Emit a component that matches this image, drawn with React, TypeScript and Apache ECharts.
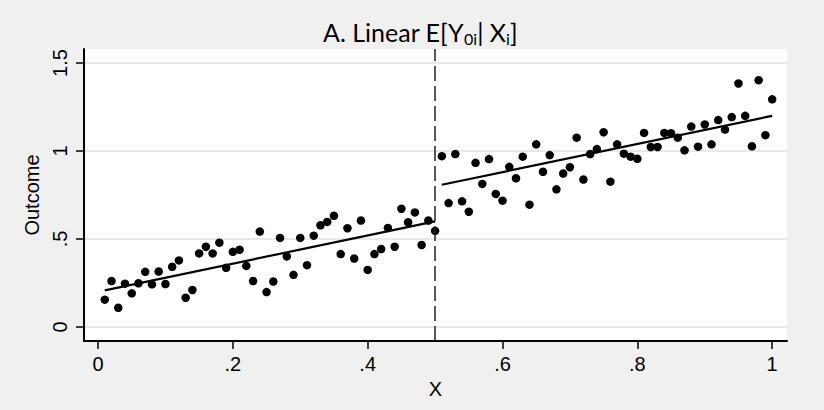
import React, { useEffect, useRef } from "react";
import * as echarts from "echarts";

const xTicks = [0, 0.2, 0.4, 0.6, 0.8, 1];
const xTickLabels = ["0", ".2", ".4", ".6", ".8", "1"];
const yTicks = [0, 0.5, 1, 1.5];
const yTickLabels = ["0", ".5", "1", "1.5"];

const xValues = [
  0.01, 0.02, 0.03, 0.04, 0.05, 0.06, 0.07, 0.08, 0.09, 0.1,
  0.11, 0.12, 0.13, 0.14, 0.15, 0.16, 0.17, 0.18, 0.19, 0.2,
  0.21, 0.22, 0.23, 0.24, 0.25, 0.26, 0.27, 0.28, 0.29, 0.3,
  0.31, 0.32, 0.33, 0.34, 0.35, 0.36, 0.37, 0.38, 0.39, 0.4,
  0.41, 0.42, 0.43, 0.44, 0.45, 0.46, 0.47, 0.48, 0.49, 0.5,
  0.51, 0.52, 0.53, 0.54, 0.55, 0.56, 0.57, 0.58, 0.59, 0.6,
  0.61, 0.62, 0.63, 0.64, 0.65, 0.66, 0.67, 0.68, 0.69, 0.7,
  0.71, 0.72, 0.73, 0.74, 0.75, 0.76, 0.77, 0.78, 0.79, 0.8,
  0.81, 0.82, 0.83, 0.84, 0.85, 0.86, 0.87, 0.88, 0.89, 0.9,
  0.91, 0.92, 0.93, 0.94, 0.95, 0.96, 0.97, 0.98, 0.99, 1.0,
];

const outcomes = [
  0.155, 0.261, 0.109, 0.246, 0.191, 0.248, 0.313, 0.242, 0.315, 0.244,
  0.342, 0.378, 0.166, 0.21, 0.418, 0.456, 0.418, 0.479, 0.336, 0.427,
  0.439, 0.347, 0.261, 0.542, 0.198, 0.258, 0.506, 0.401, 0.296, 0.506,
  0.351, 0.519, 0.578, 0.597, 0.632, 0.414, 0.561, 0.389, 0.605, 0.324,
  0.414, 0.443, 0.563, 0.456, 0.672, 0.595, 0.651, 0.466, 0.605, 0.546,
  0.971, 0.704, 0.983, 0.714, 0.655, 0.933, 0.813, 0.954, 0.756, 0.718,
  0.91, 0.845, 0.968, 0.695, 1.038, 0.882, 0.977, 0.782, 0.872, 0.908,
  1.076, 0.838, 0.983, 1.011, 1.107, 0.826, 1.038, 0.985, 0.968, 0.956,
  1.103, 1.023, 1.023, 1.103, 1.101, 1.076, 1.004, 1.139, 1.025, 1.151,
  1.038, 1.176, 1.122, 1.193, 1.384, 1.2, 1.027, 1.403, 1.09, 1.294,
];

const cutoff = 0.5;
const leftFitX = [0.01, 0.5];
const leftFitY = [0.208, 0.6];
const rightFitX = [0.51, 1.0];
const rightFitY = [0.808, 1.2];

const fmt = (ticks: number[], labels: string[]) => (v: number) => {
  const i = ticks.findIndex((t) => Math.abs(t - v) < 1e-9);
  return i >= 0 ? labels[i] : "";
};

export default function App() {
  const ref = useRef<HTMLDivElement>(null);
  useEffect(() => {
    if (!ref.current) return;
    const chart = echarts.init(ref.current, null, { renderer: "svg" });
    const axisFont = "Liberation Sans, Arial, sans-serif";
    chart.setOption({
      animation: false,
      backgroundColor: "#f0f0f0",
      title: {
        text: "A. Linear E[Y{sub|0i}| X{sub|i}]",
        left: 318,
        top: 13,
        textStyle: {
          fontFamily: "Lato, sans-serif",
          fontSize: 25,
          fontWeight: "normal",
          color: "#000",
          lineHeight: 28,
          rich: {
            sub: {
              fontFamily: "Lato, sans-serif",
              fontSize: 16,
              lineHeight: 16,
              verticalAlign: "bottom",
              color: "#000",
            },
          },
        },
      },
      grid: {
        left: 84,
        top: 49,
        right: 37,
        bottom: 69,
        show: true,
        backgroundColor: "#ffffff",
        borderWidth: 0,
      },
      xAxis: {
        type: "value",
        min: -0.0208,
        max: 1.022,
        name: "X",
        nameLocation: "middle",
        nameGap: 33,
        nameTextStyle: { fontFamily: axisFont, fontSize: 20, color: "#000" },
        axisLine: { show: true, onZero: false, lineStyle: { color: "#000", width: 2 } },
        axisTick: {
          show: true,
          customValues: xTicks,
          length: 8,
          lineStyle: { color: "#000", width: 1.5 },
        },
        axisLabel: {
          customValues: xTicks,
          formatter: fmt(xTicks, xTickLabels),
          fontFamily: axisFont,
          fontSize: 20,
          color: "#000",
          margin: 13,
        },
        splitLine: { show: false },
      },
      yAxis: {
        type: "value",
        min: -0.08,
        max: 1.58,
        name: "Outcome",
        nameLocation: "middle",
        nameGap: 38,
        nameTextStyle: { fontFamily: axisFont, fontSize: 20, color: "#000" },
        axisLine: { show: true, onZero: false, lineStyle: { color: "#000", width: 2 } },
        axisTick: {
          show: true,
          customValues: yTicks,
          length: 8,
          lineStyle: { color: "#000", width: 1.5 },
        },
        axisLabel: {
          customValues: yTicks,
          formatter: fmt(yTicks, yTickLabels),
          rotate: 90,
          fontFamily: axisFont,
          fontSize: 20,
          color: "#000",
          margin: 14,
        },
        splitLine: { show: true, lineStyle: { color: "#e8e8e8", width: 2 } },
      },
      series: [
        {
          type: "scatter",
          data: xValues.map((x, i) => [x, outcomes[i]]),
          symbol: "circle",
          symbolSize: 8.5,
          itemStyle: { color: "#000", opacity: 1 },
          z: 3,
          markLine: {
            silent: true,
            symbol: "none",
            label: { show: false },
            lineStyle: { color: "#222", width: 1.5, type: [15, 5] },
            data: [{ xAxis: cutoff }],
          },
        },
        {
          type: "line",
          data: leftFitX.map((x, i) => [x, leftFitY[i]]),
          showSymbol: false,
          lineStyle: { color: "#000", width: 2.2 },
          z: 4,
        },
        {
          type: "line",
          data: rightFitX.map((x, i) => [x, rightFitY[i]]),
          showSymbol: false,
          lineStyle: { color: "#000", width: 2.2 },
          z: 4,
        },
      ],
    });
    return () => chart.dispose();
  }, []);
  return (
    <div
      ref={ref}
      style={{ position: "fixed", left: 0, top: 0, width: 824, height: 410 }}
    />
  );
}
